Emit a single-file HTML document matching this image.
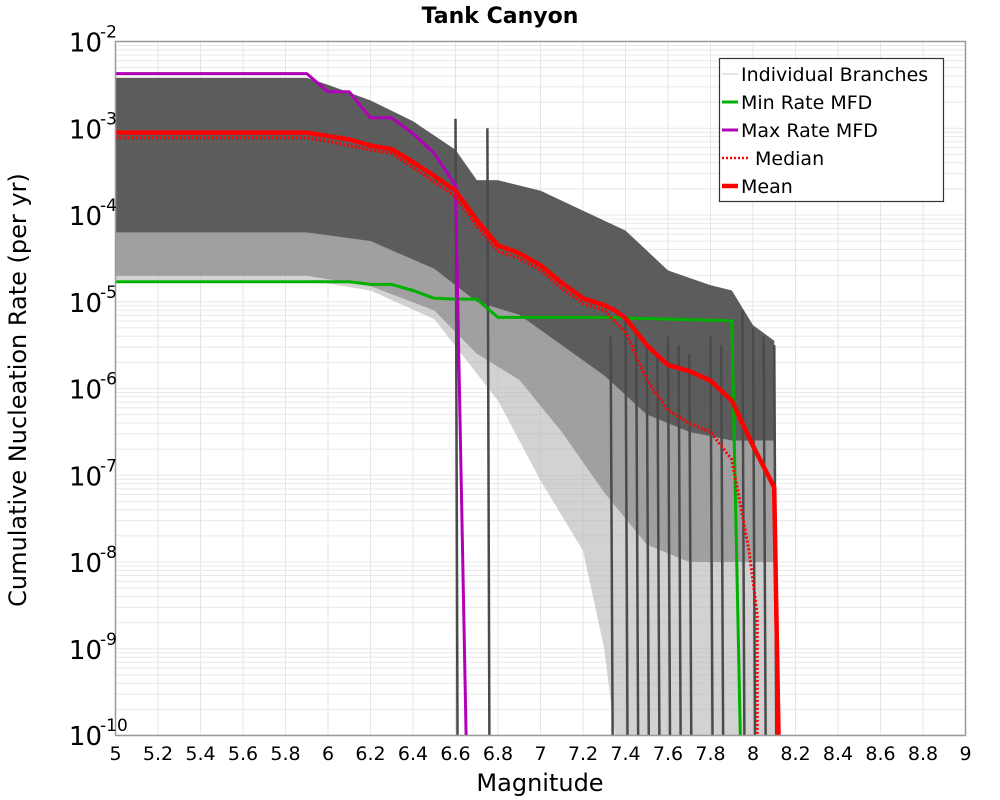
<!DOCTYPE html>
<html><head><meta charset="utf-8">
<style>
html,body{margin:0;padding:0;background:#fff;width:1000px;height:800px;overflow:hidden}
svg text{font-family:"DejaVu Sans","Liberation Sans",sans-serif;fill:#000}
</style></head>
<body>
<svg id="chart" width="1000" height="800" viewBox="0 0 1000 800" xmlns="http://www.w3.org/2000/svg">
<text x="500" y="23" text-anchor="middle" font-size="22" font-weight="bold">Tank Canyon</text>
<g id="grid"></g>
<g id="bands"></g>
<g id="series"></g>
<rect x="115.5" y="41.5" width="850" height="694" fill="none" stroke="#999" stroke-width="1.5"/>
<g id="xticks"></g>
<g id="yticks"></g>
<text x="540" y="791" text-anchor="middle" font-size="24">Magnitude</text>
<text transform="translate(26,390) rotate(-90)" text-anchor="middle" font-size="24">Cumulative Nucleation Rate (per yr)</text>
<g>
<rect x="719.5" y="58.5" width="224" height="143" fill="#fff" stroke="#333" stroke-width="1.2"/>
<g><line x1="722" y1="74" x2="738" y2="74" stroke="#ccc" stroke-width="1"/><text x="741" y="81" font-size="19">Individual Branches</text></g>
<g><line x1="722" y1="102" x2="738" y2="102" stroke="#00b000" stroke-width="3"/><text x="741" y="109" font-size="19">Min Rate MFD</text></g>
<g><line x1="722" y1="130" x2="738" y2="130" stroke="#b000b8" stroke-width="3"/><text x="741" y="137" font-size="19">Max Rate MFD</text></g>
<g><line x1="722" y1="158" x2="750" y2="158" stroke="#f00" stroke-width="2.5" stroke-dasharray="2,2"/><text x="755" y="165" font-size="19">Median</text></g>
<g><line x1="722" y1="186" x2="738" y2="186" stroke="#f00" stroke-width="4.5"/><text x="741" y="193" font-size="19">Mean</text></g>
</g>
</svg>
<script>
// ---- data (log10 of rate) ----
const xTicks = [5,5.2,5.4,5.6,5.8,6,6.2,6.4,6.6,6.8,7,7.2,7.4,7.6,7.8,8,8.2,8.4,8.6,8.8,9];
const yExps = [-2,-3,-4,-5,-6,-7,-8,-9,-10];
const meanM = [5,5.9,6.0,6.1,6.2,6.3,6.4,6.5,6.6,6.7,6.8,6.9,7.0,7.1,7.2,7.3,7.35,7.4,7.5,7.6,7.7,7.8,7.9,8.0,8.1,8.12];
const meanV = [-3.05,-3.05,-3.09,-3.13,-3.2,-3.24,-3.39,-3.55,-3.72,-4.06,-4.35,-4.44,-4.58,-4.78,-4.96,-5.04,-5.1,-5.19,-5.5,-5.73,-5.8,-5.91,-6.14,-6.66,-7.14,-10];
const medM = [5,5.9,6.0,6.1,6.2,6.3,6.4,6.5,6.6,6.7,6.8,6.9,7.0,7.1,7.2,7.3,7.4,7.5,7.6,7.7,7.8,7.9,7.98,8.02,8.02];
const medV = [-3.11,-3.11,-3.15,-3.2,-3.25,-3.29,-3.45,-3.62,-3.79,-4.13,-4.42,-4.5,-4.64,-4.85,-5.02,-5.1,-5.35,-5.9,-6.25,-6.4,-6.5,-6.82,-7.85,-8.6,-10];
const minM = [5,6.1,6.2,6.3,6.4,6.5,6.6,6.7,6.8,7.3,7.6,7.9,7.94];
const minV = [-4.77,-4.77,-4.8,-4.8,-4.87,-4.96,-4.97,-4.97,-5.18,-5.18,-5.2,-5.22,-10];
const maxM = [5,5.9,6.0,6.1,6.2,6.3,6.4,6.5,6.6,6.65];
const maxV = [-2.37,-2.37,-2.58,-2.58,-2.88,-2.88,-3.06,-3.29,-3.66,-10];
// branch envelope (outer), mid band and dense core
const envM = [5,5.9,6.0,6.2,6.4,6.6,6.7,6.8,7.0,7.2,7.4,7.6,7.8,7.9,8.0,8.1,8.12];
const envUp = [-2.42,-2.42,-2.5,-2.68,-2.92,-3.25,-3.6,-3.6,-3.72,-3.95,-4.18,-4.64,-4.81,-4.87,-5.27,-5.45,-10];
const envLoM = [5,5.9,6.2,6.5,6.8,7.0,7.2,7.3,7.35];
const envLo = [-4.75,-4.75,-4.87,-5.2,-6.14,-7.06,-7.87,-9.0,-10];
const midM = [5,5.9,6.2,6.5,6.7,6.9,7.1,7.3,7.5,7.7,7.9,8.0,8.1];
const midLo = [-4.7,-4.7,-4.82,-5.1,-5.6,-5.9,-6.5,-7.2,-7.8,-8.0,-8.0,-8.0,-8.0];
const coreM = [5,5.9,6.2,6.5,6.7,6.9,7.1,7.3,7.5,7.7,7.9,8.0,8.1];
const coreLo = [-4.2,-4.2,-4.3,-4.62,-5.0,-5.15,-5.5,-5.85,-6.3,-6.5,-6.6,-6.6,-6.6];
// vertical branch drops (magnitude, log10 rate at top)
const dropM = [6.6,6.75,7.33,7.4,7.45,7.5,7.55,7.6,7.65,7.7,7.8,7.85,7.95,8.0,8.05,8.1];
const dropTop = [-2.89,-3.0,-5.4,-5.2,-5.3,-5.5,-5.6,-5.4,-5.5,-5.6,-5.4,-5.5,-5.1,-5.3,-5.4,-5.5];

const X = m => 115.5 + (m-5)*212.5;
const Y = v => Math.min(735, 41.5 + (-2 - v)*86.75);
const NS = 'http://www.w3.org/2000/svg';
function mk(tag, parent){const e=document.createElementNS(NS,tag);document.getElementById(parent).appendChild(e);return e;}
function pts(ms,vs){return ms.map((m,i)=>X(m).toFixed(1)+','+Y(vs[i]).toFixed(1)).join(' ');}

// grid
for (let d=-10; d<-2; d++){
  for (let k=1;k<10;k++){
    const g = mk('line','grid');
    
    
    const y = Y(d+Math.log10(k));
    g.setAttribute('x1',115.5);g.setAttribute('x2',965.5);g.setAttribute('y1',y);g.setAttribute('y2',y);
    g.setAttribute('stroke','#e8e8e8');g.setAttribute('stroke-width','1');
  }
}
xTicks.forEach(t=>{
  const g = mk('line','grid');
  
  
  g.setAttribute('x1',X(t));g.setAttribute('x2',X(t));g.setAttribute('y1',41.5);g.setAttribute('y2',735);
  g.setAttribute('stroke','#e6e6e6');g.setAttribute('stroke-width','1');
  const tx = mk('text','xticks');
  
  
  tx.setAttribute('x',X(t));tx.setAttribute('y',760);tx.setAttribute('text-anchor','middle');tx.setAttribute('font-size','19');
  tx.textContent = String(t);
});
yExps.forEach(e=>{
  const tx = mk('text','yticks');
  
  
  tx.setAttribute('x',102);tx.setAttribute('y',Y(e)+10);tx.setAttribute('text-anchor','end');tx.setAttribute('font-size','26');
  tx.textContent='10';
  const sp = mk('text','yticks');
  
  
  sp.setAttribute('x',100);sp.setAttribute('y',Y(e)-4);sp.setAttribute('font-size','17');
  sp.textContent=String(e);
});

// branches
const env = mk('polygon','bands');


env.setAttribute('points', pts(envM,envUp)+' '+X(8.12)+','+Y(-10)+' '+pts(envLoM.slice().reverse(),envLo.slice().reverse()));
env.setAttribute('fill','#b4b4b4');env.setAttribute('fill-opacity','0.6');
const mid = mk('polygon','bands');


mid.setAttribute('points', pts(envM.slice(0,16),envUp.slice(0,16))+' '+pts(midM.slice().reverse(),midLo.slice().reverse()));
mid.setAttribute('fill','#8a8a8a');mid.setAttribute('fill-opacity','0.7');
const core = mk('polygon','bands');


core.setAttribute('points', pts(envM.slice(0,16),envUp.slice(0,16))+' '+pts(coreM.slice().reverse(),coreLo.slice().reverse()));
core.setAttribute('fill','#505050');core.setAttribute('fill-opacity','0.85');
dropM.forEach((m,i)=>{
  const l = mk('line','bands');
  
  
  l.setAttribute('x1',X(m));l.setAttribute('x2',X(m)+2);l.setAttribute('y1',Y(dropTop[i]));l.setAttribute('y2',735);
  l.setAttribute('stroke','#4a4a4a');l.setAttribute('stroke-width','2.5');
});

function series(name,ms,vs,color,w,dash){
  const p = mk('polyline','series');
  
  
  p.setAttribute('points',pts(ms,vs));
  p.setAttribute('fill','none');p.setAttribute('stroke',color);p.setAttribute('stroke-width',w);
  p.setAttribute('stroke-linejoin','round');
  if(dash)p.setAttribute('stroke-dasharray',dash);
}
series('min-rate-mfd-line',minM,minV,'#00b000',3);
series('max-rate-mfd-line',maxM,maxV,'#b000b8',3);
series('median-line',medM,medV,'#f00',3,'2,2');
series('mean-line',meanM,meanV,'#f00',4.5);
</script>
</body></html>
